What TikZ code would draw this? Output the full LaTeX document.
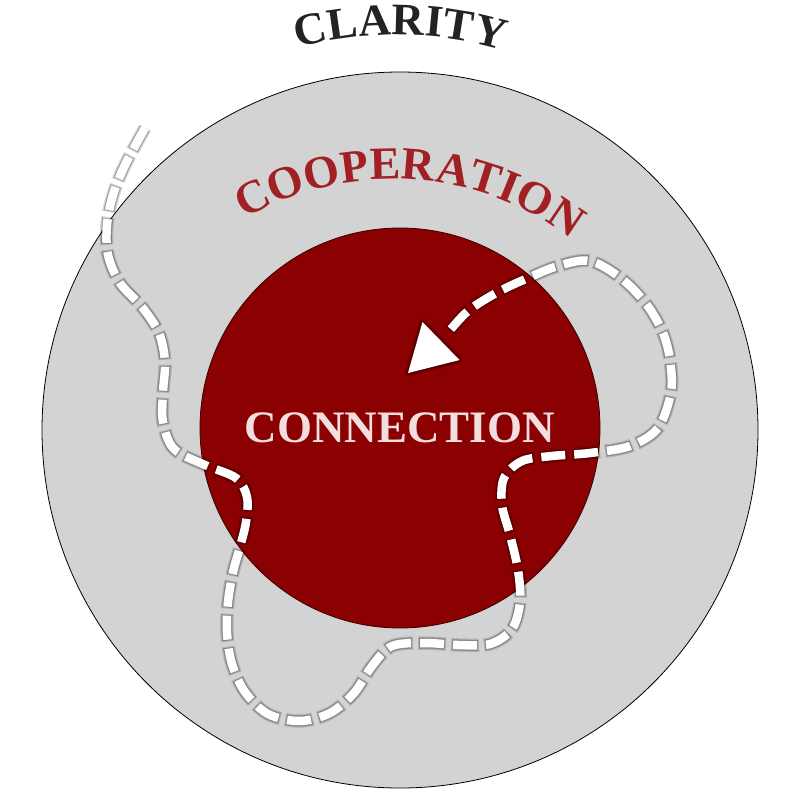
\documentclass[tikz,border=0pt]{standalone}
\usepackage{fontspec}
\setmainfont{Liberation Serif}
\usetikzlibrary{decorations.text}
\definecolor{outerfill}{RGB}{211,211,211}
\definecolor{innerfill}{RGB}{139,0,0}
\definecolor{coop}{RGB}{160,32,36}
\definecolor{clar}{RGB}{35,35,35}
\definecolor{conn}{RGB}{243,221,223}
\tikzset{
  glowA/.style={draw=black, line width=13.5pt, opacity=0.15, dash pattern=on 28pt off 5pt, dash phase=2pt},
  glowB/.style={draw=black, line width=11pt, opacity=0.25, dash pattern=on 26pt off 7pt, dash phase=1pt},
  dashwhite/.style={draw=white, line width=8.5pt, dash pattern=on 24pt off 9pt},
  arctext/.style={decorate, decoration={text along path, text align=center}},
}
\begin{document}
\begin{tikzpicture}[x=1pt,y=-1pt]
\useasboundingbox (0,0) rectangle (800,800);
\fill[white] (0,0) rectangle (800,800);
% circles
\draw[fill=outerfill, draw=black, line width=0.8pt] (400,430) circle[radius=358];
\draw[fill=innerfill, draw=black!60!innerfill, line width=0.8pt] (400,428) circle[radius=200];
% arc texts
\path[arctext, decoration={text color=clar, text={|\fontsize{45}{45}\selectfont\bfseries|CLARITY}}]
  (397,412) ++(-115:377) arc[start angle=-115, end angle=-64, radius=377];
\path[arctext, decoration={text color=coop, text={|\fontsize{46}{46}\selectfont\bfseries|COOPERATION}}]
  (393,474) ++(-132:295) arc[start angle=-132, end angle=-41, radius=295];
\node[text=conn, font=\fontsize{45}{45}\selectfont\bfseries, inner sep=0pt] (connection) at (400,428) {CONNECTION};
% dashed route
\coordinate (tip) at (408,373);
\coordinate (baseA) at (422.5,322);
\coordinate (baseB) at (459.5,360);
\foreach \sty in {glowA,glowB,dashwhite}
  \draw[\sty] plot[smooth, tension=0.55] coordinates {(145,128) (125,165) (113,195) (107,225) (108,255) (120,283) (142,307) (159,333) (165,362) (163,392) (163,422) (174,449) (205,465) (236,478) (247,497) (246,522) (240,547) (233,572) (228,602) (227,633) (232,664) (245,692) (268,714) (300,721) (330,713) (354,693) (372,666) (392,646) (425,643) (458,645) (490,644) (512,629) (520,602) (518,570) (510,535) (502,505) (504,478) (522,461) (552,456) (590,453) (630,446) (658,428) (671,392) (670,360) (663,333) (647,305) (622,279) (590,261) (558,266) (528,278) (498,292) (468,311) (446,335)};
% arrow head
\draw[black, opacity=0.15, line width=7pt, line join=round] (tip) -- (baseA) -- (baseB) -- cycle;
\draw[black, opacity=0.25, line width=3.5pt, line join=round] (tip) -- (baseA) -- (baseB) -- cycle;
\fill[white] (tip) -- (baseA) -- (baseB) -- cycle;
\end{tikzpicture}
\end{document}
